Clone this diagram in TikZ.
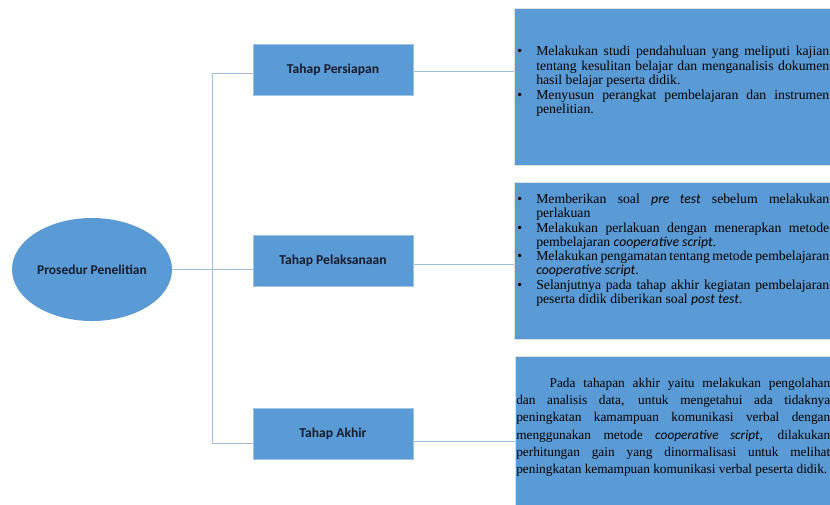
\documentclass[tikz,border=0pt]{standalone}
\usepackage{fontspec}
\setmainfont{Liberation Serif}
\newfontfamily\stagefont{Carlito}
\usepackage{enumitem}
\usetikzlibrary{shapes.geometric,positioning}
\definecolor{boxblue}{RGB}{91,155,213}
\definecolor{linkblue}{RGB}{160,192,222}
\definecolor{stagetext}{RGB}{22,28,45}
\newcommand{\term}[1]{{\stagefont\itshape #1}}
\hyphenpenalty=10000
\exhyphenpenalty=10000

\begin{document}
\begin{tikzpicture}[
		x=0.75pt, y=-0.75pt,
		stage/.style={rectangle, fill=boxblue, draw=boxblue!60!white, line width=0.4pt,
			minimum width=120pt, minimum height=38.25pt, inner sep=0pt,
			font=\stagefont\bfseries\fontsize{10.2}{12}\selectfont, text=stagetext},
		panel/.style={rectangle, anchor=north west, fill=boxblue, draw=black!12,
			line width=0.6pt, minimum width=252pt, inner sep=0pt},
		body/.style={anchor=north west, inner sep=0pt, text width=#1, align=justify},
		link/.style={draw=linkblue, line width=0.75pt}
		]
		% page frame
		\clip (0,0) rectangle (830,504);
		\fill[white] (0,0) rectangle (830,504);
		
		% centre and stages
		\node[ellipse, fill=boxblue, minimum width=120pt, minimum height=77.25pt, inner sep=0pt,
			font=\stagefont\bfseries\fontsize{10.1}{12}\selectfont, text=stagetext]
			(prosedur) at (92,269.5) {Prosedur Penelitian};
		\node[stage] (persiapan) at (333,69.5) {Tahap Persiapan};
		\node[stage] (pelaksanaan) at (333,260.5) {Tahap Pelaksanaan};
		\node[stage] (akhir) at (333,434) {Tahap Akhir};
		
		% description panels
		\node[panel, minimum height=117.75pt] (panelA) at (514,8) {};
		\node[panel, minimum height=117.75pt] (panelB) at (514,182) {};
		\node[panel, minimum height=125pt] (panelC) at (515,356) {};
		
		\node[body=234pt, font=\fontsize{10.3}{10.9}\selectfont] (textA) at (517,41) {%
			\begin{itemize}[nosep, leftmargin=14.25pt, labelsep=10pt, labelwidth=4.25pt, align=left, label=\textbullet]
				\item Melakukan studi pendahuluan yang meliputi kajian\linebreak tentang kesulitan belajar dan menganalisis dokumen\linebreak hasil belajar peserta didik.
				\item Menyusun perangkat pembelajaran dan instrumen\linebreak penelitian.
			\end{itemize}};
		\node[body=234pt, font=\fontsize{10.3}{10.7}\selectfont] (textB) at (517,189) {%
			\begin{itemize}[nosep, leftmargin=14.25pt, labelsep=10pt, labelwidth=4.25pt, align=left, label=\textbullet]
				\item Memberikan soal \term{pre test} sebelum melakukan\linebreak perlakuan
				\item Melakukan perlakuan dengan menerapkan metode\linebreak pembelajaran \term{cooperative script}.
				\item Melakukan pengamatan tentang metode pembelajaran\linebreak \term{cooperative script}.
				\item Selanjutnya pada tahap akhir kegiatan pembelajaran\linebreak peserta didik diberikan soal \term{post test}.
			\end{itemize}};
		\node[body=235.5pt, font=\fontsize{10}{12.9}\selectfont] (textC) at (516,378) {%
			\setlength{\parindent}{25pt}\indent Pada tahapan akhir yaitu melakukan pengolahan\linebreak dan analisis data, untuk mengetahui ada tidaknya\linebreak peningkatan kamampuan komunikasi verbal dengan\linebreak menggunakan metode \term{cooperative script}, dilakukan\linebreak perhitungan gain yang dinormalisasi untuk melihat\linebreak peningkatan kemampuan komunikasi verbal peserta didik.};
		
		% connectors
		\coordinate (hubtop) at (212,73);
		\coordinate (hubbot) at (212,443);
		\draw[link] (prosedur) -- (prosedur -| pelaksanaan.west);
		\draw[link] (hubtop) -- (hubbot);
		\draw[link] (hubtop) -- (hubtop -| persiapan.west);
		\draw[link] (hubbot) -- (hubbot -| akhir.west);
		\draw[link] (persiapan.east |- 0,71) -- (panelA.west |- 0,71);
		\draw[link] (pelaksanaan.east |- 0,264) -- (panelB.west |- 0,264);
		\draw[link] (akhir.east |- 0,441) -- (panelC.west |- 0,441);
		\end{tikzpicture}
\end{document}
